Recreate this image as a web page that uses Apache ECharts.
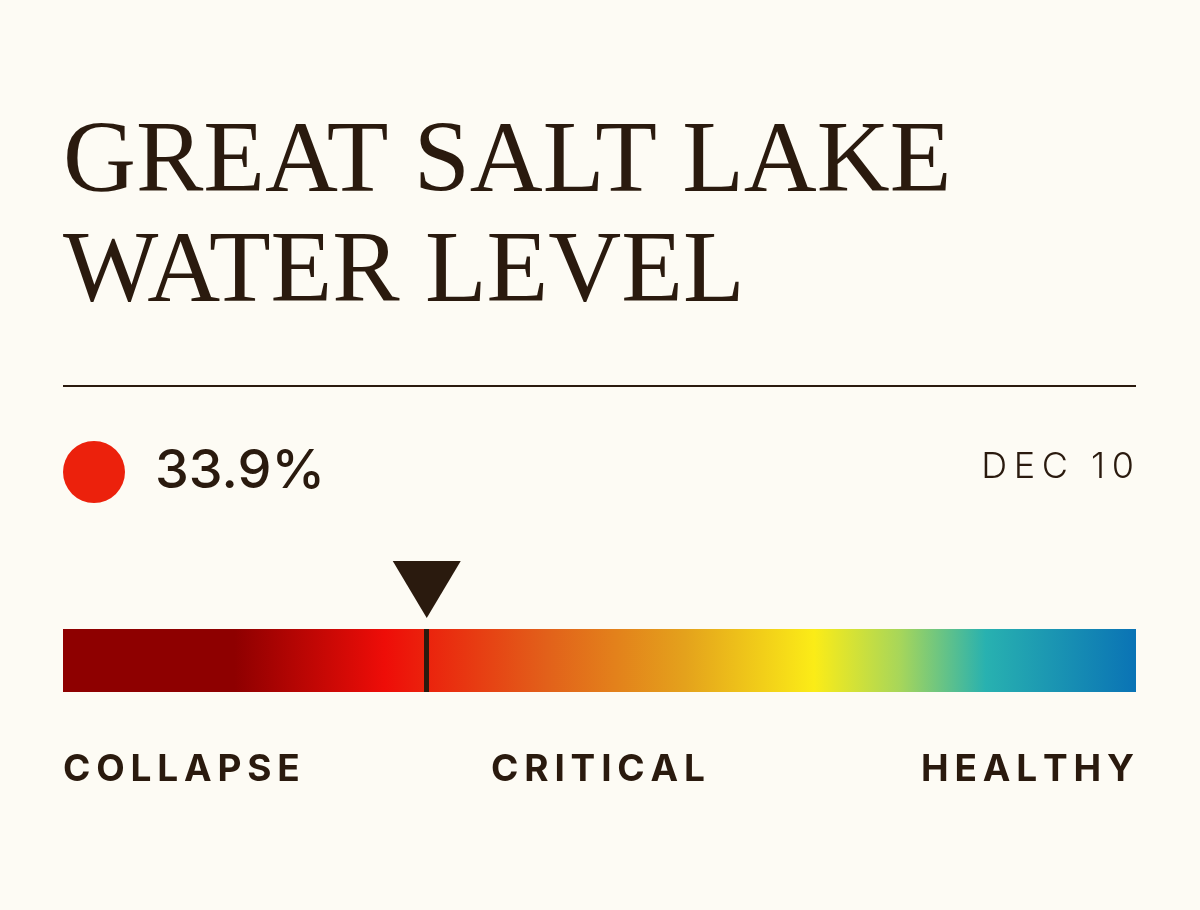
<!DOCTYPE html><html><head><meta charset="utf-8"><style>html,body{margin:0;background:#FDFBF4}#c{width:1200px;height:910px}</style>
<script src="https://cdn.jsdelivr.net/npm/echarts@6/dist/echarts.min.js"></script></head><body><div id="c"></div><script>
const titleLines=['GREAT SALT LAKE','WATER LEVEL'];
const levelValue=[33.9];
const dateLabel=['DEC 10'];
const zoneLabels=['COLLAPSE','CRITICAL','HEALTHY'];
const scaleMax=[100];
const ink='#2A1A0E';
const sp=s=>s.split('').join('\u2009');
const ch=echarts.init(document.getElementById('c'));
const grad=new echarts.graphic.LinearGradient(0,0,1,0,[
{offset:0,color:'#8E0000'},{offset:0.16,color:'#8E0000'},{offset:0.30,color:'#EE0D08'},
{offset:0.45,color:'#E2601A'},{offset:0.58,color:'#E4A21C'},{offset:0.70,color:'#FBEC17'},
{offset:0.78,color:'#A7D65A'},{offset:0.86,color:'#28B1B0'},{offset:1,color:'#0A73B5'}]);
ch.setOption({
backgroundColor:'#FDFBF4',
grid:[{left:63,right:64,top:629,height:63},{left:63,right:64,top:561,height:57}],
xAxis:[{gridIndex:0,type:'value',min:0,max:scaleMax[0],show:false},{gridIndex:1,type:'value',min:0,max:scaleMax[0],show:false}],
yAxis:[{gridIndex:0,type:'category',data:['level'],show:false},{gridIndex:1,type:'value',min:0,max:1,show:false}],
series:[{type:'bar',xAxisIndex:0,yAxisIndex:0,data:[scaleMax[0]],barWidth:63,itemStyle:{color:grad},silent:true,
 markLine:{symbol:'none',silent:true,label:{show:false},lineStyle:{color:ink,width:5,type:'solid'},data:[{xAxis:levelValue[0]}]}},
{type:'scatter',xAxisIndex:1,yAxisIndex:1,data:[[levelValue[0],0.5]],symbol:'triangle',symbolRotate:180,symbolSize:[68,57],itemStyle:{color:ink,opacity:1}}],
graphic:[
{type:'text',left:63,top:114,style:{text:titleLines[0],font:'101px "Liberation Serif"',fill:ink}},
{type:'text',left:63,top:224,style:{text:titleLines[1],font:'101px "Liberation Serif"',fill:ink}},
{type:'rect',shape:{x:63,y:385,width:1073,height:2},style:{fill:ink}},
{type:'circle',shape:{cx:94,cy:472,r:31},style:{fill:'#EC210C'}},
{type:'text',x:155,y:472,style:{text:levelValue[0].toFixed(1)+'%',font:'500 54px Inter',fill:ink,verticalAlign:'middle'}},
{type:'text',x:1134,y:467,style:{text:sp(dateLabel[0]),font:'300 36px Inter',fill:ink,align:'right',verticalAlign:'middle'}},
{type:'text',x:63,y:770,style:{text:sp(zoneLabels[0]),font:'bold 37px Inter',fill:ink,verticalAlign:'middle'}},
{type:'text',x:598,y:770,style:{text:sp(zoneLabels[1]),font:'bold 37px Inter',fill:ink,align:'center',verticalAlign:'middle'}},
{type:'text',x:1134,y:770,style:{text:sp(zoneLabels[2]),font:'bold 37px Inter',fill:ink,align:'right',verticalAlign:'middle'}}
]});
</script></body></html>
